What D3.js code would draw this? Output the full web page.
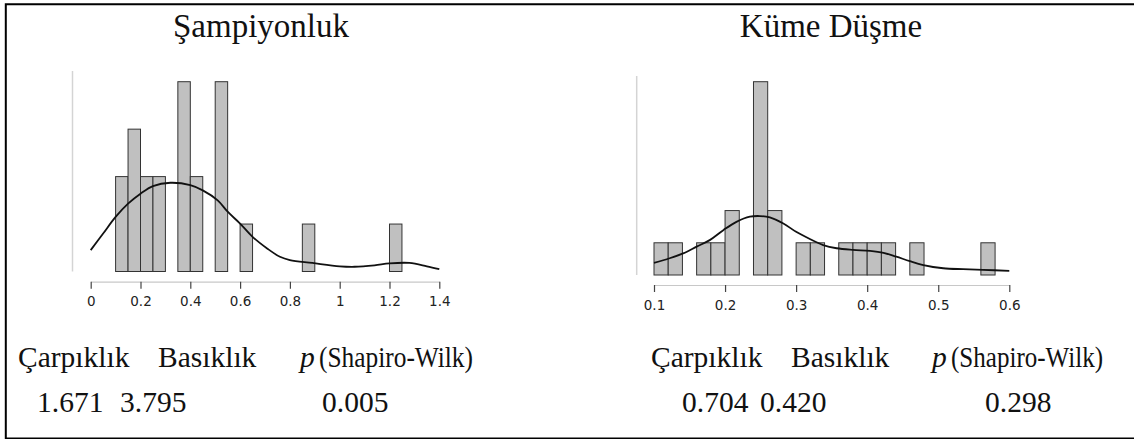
<!DOCTYPE html>
<html><head><meta charset="utf-8">
<script src="https://cdnjs.cloudflare.com/ajax/libs/d3/7.8.5/d3.min.js"></script>
<style>
html,body{margin:0;padding:0;background:#fff;}
svg{display:block;}
</style></head>
<body><svg id="c" width="1134" height="439"></svg>
<script>
// ---- Data ----
const titles = ["Şampiyonluk", "Küme Düşme"];

// Left histogram (Şampiyonluk): bin starts, width 0.05, counts
const champBinStarts = [0.10,0.15,0.20,0.25,0.30,0.35,0.40,0.45,0.50,0.55,0.60,0.85,1.20];
const champCounts    = [2,   3,   2,   2,   0,   4,   2,   0,   4,   0,   1,   1,   1];
const champBinWidth = 0.05;
const champTicks = [0,0.2,0.4,0.6,0.8,1,1.2,1.4];
const champTickLabels = ["0","0.2","0.4","0.6","0.8","1","1.2","1.4"];
const champDensX = [0.00,0.05,0.10,0.15,0.20,0.25,0.32,0.40,0.45,0.51,0.55,0.60,0.65,0.71,0.76,0.80,0.89,1.00,1.06,1.14,1.20,1.28,1.35,1.40];
const champDensY = [0.45,0.80,1.15,1.43,1.64,1.80,1.87,1.82,1.71,1.50,1.26,1.01,0.73,0.48,0.31,0.24,0.18,0.11,0.10,0.13,0.17,0.18,0.11,0.05];

// Right histogram (Küme Düşme): bin width 0.02
const relBinStarts = [0.10,0.12,0.16,0.18,0.20,0.24,0.26,0.30,0.32,0.36,0.38,0.40,0.42,0.46,0.56];
const relCounts    = [1,   1,   1,   1,   2,   6,   2,   1,   1,   1,   1,   1,   1,   1,   1];
const relBinWidth = 0.02;
const relTicks = [0.1,0.2,0.3,0.4,0.5,0.6];
const relTickLabels = ["0.1","0.2","0.3","0.4","0.5","0.6"];
const relDensX = [0.100,0.122,0.141,0.160,0.179,0.198,0.216,0.235,0.249,0.263,0.282,0.300,0.320,0.338,0.357,0.380,0.404,0.423,0.441,0.460,0.479,0.507,0.535,0.563,0.600];
const relDensY = [0.38,0.52,0.67,0.88,1.09,1.40,1.65,1.81,1.83,1.79,1.60,1.34,1.11,0.93,0.83,0.78,0.75,0.69,0.57,0.43,0.31,0.21,0.18,0.16,0.13];

const statHeaders = ["Çarpıklık","Basıklık","p","(Shapiro-Wilk)"];
const champStats = ["1.671","3.795","0.005"];
const relStats   = ["0.704","0.420","0.298"];

// ---- Drawing ----
const svg = d3.select("#c");
const SERIF = "'Liberation Serif','Times New Roman',serif";

// frame
svg.append("path").attr("d","M5.8,439 V4.2 H1134").attr("fill","none").attr("stroke","#000").attr("stroke-width",2);
svg.append("line").attr("x1",5).attr("x2",1134).attr("y1",438.3).attr("y2",438.3).attr("stroke","#000").attr("stroke-width",1.6);

function serifText(parent, x, y, size, anchor){
  return parent.append("text")
    .attr("x",x).attr("y",y)
    .attr("text-anchor",anchor||"start")
    .attr("fill","#111")
    .style("font-family",SERIF).style("font-size",size+"px");
}

function panel(cfg){
  const x = d3.scaleLinear().domain(cfg.xDomain).range(cfg.xRange);
  const y = d3.scaleLinear().domain([0,cfg.yMax]).range([cfg.base, cfg.top]);
  const g = svg.append("g");
  g.append("line").attr("x1",cfg.yAxisX).attr("x2",cfg.yAxisX)
    .attr("y1",cfg.yAxisTop).attr("y2",cfg.base)
    .attr("stroke","#d4d4d4").attr("stroke-width",1.5);
  g.selectAll("rect.bar").data(cfg.starts.map((s,i)=>({s,c:cfg.counts[i]})).filter(d=>d.c>0))
    .join("rect").attr("class","bar")
    .attr("x",d=>x(d.s)).attr("width",d=>x(d.s+cfg.bw)-x(d.s))
    .attr("y",d=>y(d.c)).attr("height",d=>y(0)-y(d.c))
    .attr("fill","#c0c0c0").attr("stroke","#333").attr("stroke-width",1);
  const line = d3.line().x(d=>x(d[0])).y(d=>y(d[1])).curve(d3.curveCatmullRom.alpha(0.5));
  g.append("path").datum(cfg.dx.map((v,i)=>[v,cfg.dy[i]]))
    .attr("d",line).attr("fill","none").attr("stroke","#111").attr("stroke-width",1.8);
  const ax = d3.axisBottom(x).tickValues(cfg.ticks)
    .tickFormat((d,i)=>cfg.tickLabels[i]).tickSize(7).tickSizeOuter(0).tickPadding(8);
  const ag = g.append("g").attr("transform",`translate(0,${cfg.axisY})`).call(ax);
  ag.select(".domain").attr("stroke","#c8c8c8").attr("stroke-width",1.2);
  ag.selectAll(".tick line").attr("stroke","#444").attr("stroke-width",1.2);
  ag.selectAll(".tick text").attr("fill","#222")
    .style("font-family","'DejaVu Sans', sans-serif").style("font-size","13.5px");
  // title
  serifText(svg, cfg.titleX, 37, 33, "middle").text(cfg.title);
  // stats header
  serifText(svg, cfg.hx[0], 367, 29.5).text(statHeaders[0]);
  serifText(svg, cfg.hx[1], 367, 29.5).text(statHeaders[1]);
  serifText(svg, cfg.hx[2], 367, 29.5).style("font-style","italic").text(statHeaders[2]);
  const sw = serifText(svg, cfg.hx[3], 367, 29.5).text(statHeaders[3]);
  if (sw.node().getComputedTextLength() > cfg.swWidth) {
    sw.attr("textLength", cfg.swWidth).attr("lengthAdjust","spacingAndGlyphs");
  }
  cfg.stats.forEach((s,i)=>{
    serifText(svg, cfg.vx[i], 412, 29.5).text(s);
  });
}

panel({xDomain:[0,1.4], xRange:[90.7,439.3], yMax:4, base:271.5, top:81.7,
  yAxisX:72.5, yAxisTop:71, axisY:281.7,
  starts:champBinStarts, counts:champCounts, bw:champBinWidth,
  dx:champDensX, dy:champDensY, ticks:champTicks, tickLabels:champTickLabels,
  title:titles[0], titleX:261, hx:[18,158,300,319], swWidth:154, vx:[37,120,322], stats:champStats});

panel({xDomain:[0.1,0.6], xRange:[654,1009.3], yMax:6, base:275, top:81.7,
  yAxisX:636.7, yAxisTop:76, axisY:285,
  starts:relBinStarts, counts:relCounts, bw:relBinWidth,
  dx:relDensX, dy:relDensY, ticks:relTicks, tickLabels:relTickLabels,
  title:titles[1], titleX:831, hx:[651,791,932,951], swWidth:152, vx:[682,760,985], stats:relStats});
</script></body></html>
